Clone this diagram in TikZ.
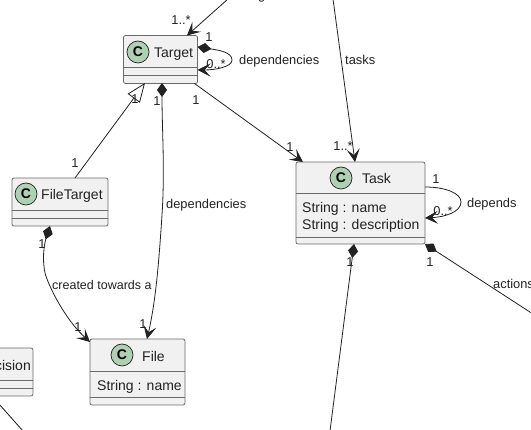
\documentclass[tikz,border=0pt]{standalone}
\usepackage{fontspec}
\setmainfont{Liberation Sans}
\usetikzlibrary{arrows.meta}
\definecolor{boxfill}{HTML}{F1F1F1}
\definecolor{boxline}{HTML}{6A6A6A}
\definecolor{spot}{HTML}{ADD1B2}
\definecolor{ink}{HTML}{222222}
\tikzset{
  x=1pt,y=-1pt,
  classbox/.style={draw=boxline,fill=boxfill,line width=0.8pt,rounded corners=2pt,inner sep=0pt,outer sep=0pt,anchor=north west},
  rule/.style={draw=boxline,line width=0.8pt},
  spotc/.style={circle,draw=ink,fill=spot,line width=0.7pt,minimum size=22pt,inner sep=0pt,font=\fontsize{14}{16}\bfseries\selectfont,text=black},
  member/.style={anchor=base west,inner sep=0pt,yshift=-0.7pt,text=ink,font=\fontsize{14}{16}\selectfont},
  lab/.style={anchor=base west,inner sep=0pt,yshift=-0.7pt,text=ink,font=\fontsize{12.85}{15}\selectfont},
  mult/.style={anchor=base,inner sep=0pt,yshift=-0.7pt,text=ink,font=\fontsize{12.85}{15}\selectfont},
  link/.style={draw=ink,line width=0.8pt},
  arr/.style={-{Stealth[length=13pt,width=13pt,inset=6pt]}},
  dia/.style={{Diamond[length=14pt,width=10pt]}-},
  diaarr/.style={{Diamond[length=14pt,width=10pt]}-{Stealth[length=13pt,width=13pt,inset=6pt]}},
  inh/.style={{Triangle[open,length=19pt,width=15pt,fill=white]}-},
}
\begin{document}
\begin{tikzpicture}
\useasboundingbox (0,0) rectangle (531,430);
\clip (0,0) rectangle (531,430);
\fill[white] (0,0) rectangle (531,430);

% class boxes
\node[classbox,minimum width=74pt,minimum height=48pt] (target) at (123.5,35.5) {};
\draw[rule] ([yshift=-32pt]target.north west) -- ([yshift=-32pt]target.north east);
\draw[rule] ([yshift=-40pt]target.north west) -- ([yshift=-40pt]target.north east);
\node[spotc] (targetc) at (138,52) {C};
\node[member] (targett) at (154,57) {Target};

\node[classbox,minimum width=129pt,minimum height=82pt] (task) at (296,162) {};
\draw[rule] ([yshift=-31.5pt]task.north west) -- ([yshift=-31.5pt]task.north east);
\draw[rule] ([yshift=-75pt]task.north west) -- ([yshift=-75pt]task.north east);
\node[spotc] (taskc) at (341,178) {C};
\node[member] (taskt) at (362,183) {Task};
\node[member] (taskm) at (302,212) {String : name};
\node[member] (taskd) at (302,229) {String : description};

\node[classbox,minimum width=96pt,minimum height=48pt] (filetarget) at (12,178) {};
\draw[rule] ([yshift=-32.5pt]filetarget.north west) -- ([yshift=-32.5pt]filetarget.north east);
\draw[rule] ([yshift=-40pt]filetarget.north west) -- ([yshift=-40pt]filetarget.north east);
\node[spotc] (filetargetc) at (26,194) {C};
\node[member] (filetargett) at (41,199) {FileTarget};

\node[classbox,minimum width=95pt,minimum height=66pt] (file) at (90,339) {};
\draw[rule] ([yshift=-32pt]file.north west) -- ([yshift=-32pt]file.north east);
\draw[rule] ([yshift=-58pt]file.north west) -- ([yshift=-58pt]file.north east);
\node[spotc] (filec) at (122,355) {C};
\node[member] (filet) at (142,361) {File};
\node[member] (filem) at (97,390) {String : name};

\node[classbox,minimum width=93pt,minimum height=48pt] (decision) at (-60,348) {};
\draw[rule] ([yshift=-32pt]decision.north west) -- ([yshift=-32pt]decision.north east);
\draw[rule] ([yshift=-40pt]decision.north west) -- ([yshift=-40pt]decision.north east);
\node[member,anchor=base east] (decisiont) at (31,370) {Decision};

% free ends
\coordinate (topa) at (228,-1);
\coordinate (topb) at (333,-1);
\coordinate (bota) at (330,431);
\coordinate (botb) at (533,314);
\coordinate (botc) at (23,431);
\coordinate (lefta) at (-1,404);

% connectors
\draw[link,arr] (topa) -- ([xshift=26.5pt]target.north);
\draw[link,arr] (topb) -- ([xshift=-5.5pt]task.north);
\draw[link,diaarr] ([yshift=-11.5pt]target.north east) .. controls (218,50) and (232,52) .. (232,60) .. controls (232,67) and (215,70) .. ([yshift=-34.5pt]target.north east);
\draw[link,inh] ([xshift=-15.5pt,yshift=0.5pt]target.south) -- ([xshift=15pt]filetarget.north);
\draw[link,diaarr] ([xshift=1.5pt,yshift=0.5pt]target.south) .. controls (162,130) and (165,170) .. (162,215) .. controls (159,260) and (156,300) .. ([xshift=9.5pt]file.north);
\draw[link,arr] ([xshift=-3pt]target.south east) -- ([xshift=-57.5pt]task.north);
\draw[link,diaarr] ([xshift=-10pt]filetarget.south) .. controls (43,248) and (42,268) .. (47,279) .. controls (53,295) and (68,322) .. ([yshift=-3pt]file.north west);
\draw[link,arr] ([yshift=-25pt]task.north east) .. controls (445,187) and (461,193) .. (461,202) .. controls (461,212) and (445,217) .. ([yshift=-56pt]task.north east);
\draw[link,dia] ([xshift=-6.5pt]task.south) -- (bota);
\draw[link,dia] (task.south east) -- (botb);
\draw[link] (lefta) -- (botc);

% labels
\node[mult] (l1) at (181,24) {1..*};
\node[lab] (l2) at (243,-1) {target};
\node[mult] (l3) at (209,41) {1};
\node[mult] (l4) at (216,68) {0..*};
\node[lab] (l5) at (239,64) {dependencies};
\node[mult] (l6) at (135,103) {1};
\node[mult] (l7) at (157,105) {1};
\node[mult] (l8) at (196,104) {1};
\node[mult] (l9) at (75,167) {1};
\node[lab] (l10) at (166,208) {dependencies};
\node[mult] (l11) at (42,248) {1};
\node[lab,font=\fontsize{12.5}{15}\selectfont] (l12) at (52,289) {created towards a};
\node[mult] (l13) at (78,331) {1};
\node[mult] (l14) at (143,328) {1};
\node[lab] (l15) at (345,64) {tasks};
\node[mult] (l16) at (343,150) {1..*};
\node[mult] (l17) at (290,151) {1};
\node[mult] (l18) at (436,183) {1};
\node[mult] (l19) at (443,215) {0..*};
\node[lab] (l20) at (467,207) {depends};
\node[mult] (l21) at (350,266) {1};
\node[mult] (l22) at (430,266) {1};
\node[lab] (l23) at (493,288) {actions};
\end{tikzpicture}
\end{document}
